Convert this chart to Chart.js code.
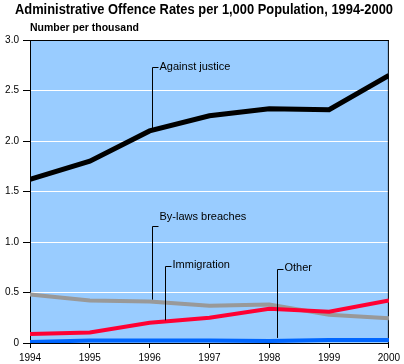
<!DOCTYPE html>
<html>
<head>
<meta charset="utf-8">
<script src="https://cdn.jsdelivr.net/npm/chart.js@4/dist/chart.umd.min.js"></script>
<style>
html,body{margin:0;padding:0;background:#fff;}
canvas{display:block;}
</style>
</head>
<body>
<canvas id="c" width="404" height="364"></canvas>
<script>
const titleText = "Administrative Offence Rates per 1,000 Population, 1994-2000";
const unitText = "Number per thousand";
const years = [1994, 1995, 1996, 1997, 1998, 1999, 2000];
const againstJustice = [1.62, 1.80, 2.10, 2.25, 2.32, 2.31, 2.65];
const immigration = [0.09, 0.105, 0.20, 0.25, 0.34, 0.31, 0.42];
const byLawsBreaches = [0.48, 0.42, 0.41, 0.37, 0.38, 0.28, 0.245];
const other = [0.01, 0.025, 0.025, 0.025, 0.02, 0.03, 0.03];
const seriesNames = ["Against justice", "Immigration", "By-laws breaches", "Other"];
const yTicks = [0, 0.5, 1.0, 1.5, 2.0, 2.5, 3.0];

// label annotations in data units: [text, lineX, lineTopY, lineBottomY, textY]
const callouts = [
  ["Against justice", 1996.04, 2.73, 2.12, 2.73],
  ["By-laws breaches", 1996.04, 1.16, 0.43, 1.25],
  ["Immigration", 1996.25, 0.765, 0.225, 0.77],
  ["Other", 1998.13, 0.73, 0.05, 0.745]
];

function pts(arr){ return years.map((yr,i)=>({x:yr, y:arr[i]})); }

const decor = {
  id:'decor',
  beforeDraw(chart){
    const {ctx, chartArea:a} = chart;
    ctx.save();
    ctx.fillStyle = '#99CCFF';
    ctx.fillRect(a.left, a.top, a.right-a.left, a.bottom-a.top);
    ctx.restore();
  },
  beforeDatasetsDraw(chart){
    const {ctx, chartArea:a} = chart;
    ctx.save();
    ctx.strokeStyle = '#000';
    ctx.lineWidth = 1;
    ctx.beginPath();
    ctx.moveTo(a.left, a.top+0.5); ctx.lineTo(a.right, a.top+0.5);
    ctx.moveTo(a.right-0.5, a.top); ctx.lineTo(a.right-0.5, a.bottom);
    ctx.stroke();
    ctx.restore();
  },
  afterDraw(chart){
    const {ctx, scales:{x,y}} = chart;
    ctx.save();
    ctx.fillStyle = '#000';
    ctx.textBaseline = 'middle';
    ctx.textAlign = 'left';
    ctx.font = 'bold 14px "Liberation Sans", Arial, sans-serif';
    let w = ctx.measureText(titleText).width;
    let s = 378 / w;
    ctx.save();
    ctx.translate(15, 10);
    ctx.scale(s, 1);
    ctx.fillText(titleText, 0, 0);
    ctx.restore();
    ctx.font = 'bold 11px "Liberation Sans", Arial, sans-serif';
    w = ctx.measureText(unitText).width;
    s = 109 / w;
    ctx.save();
    ctx.translate(30, 28);
    ctx.scale(s, 1);
    ctx.fillText(unitText, 0, 0);
    ctx.restore();
    ctx.strokeStyle = '#000';
    ctx.lineWidth = 1;
    ctx.font = '11px "Liberation Sans", Arial, sans-serif';
    callouts.forEach(([t, lx, ty, by, tyText])=>{
      const px = Math.round(x.getPixelForValue(lx)) + 0.5;
      const pt = Math.round(y.getPixelForValue(ty)) + 0.5;
      const pb = y.getPixelForValue(by);
      const ptext = y.getPixelForValue(tyText);
      ctx.beginPath();
      ctx.moveTo(px, pb); ctx.lineTo(px, pt); ctx.lineTo(px+6, pt);
      ctx.stroke();
      ctx.fillText(t, px+7, ptext);
    });
    ctx.restore();
  }
};

new Chart(document.getElementById('c'), {
  type:'line',
  data:{
    datasets:[
      {label:seriesNames[0], data:pts(againstJustice), borderColor:'#000000', borderWidth:5},
      {label:seriesNames[1], data:pts(immigration), borderColor:'#FF0033', borderWidth:4},
      {label:seriesNames[2], data:pts(byLawsBreaches), borderColor:'#999999', borderWidth:4},
      {label:seriesNames[3], data:pts(other), borderColor:'#0066FF', borderWidth:4}
    ]
  },
  options:{
    responsive:false,
    animation:false,
    events:[],
    elements:{line:{tension:0, borderCapStyle:'butt', borderJoinStyle:'miter'}, point:{radius:0}},
    layout:{padding:{top:40, right:15, left:0, bottom:0}},
    plugins:{legend:{display:false}, title:{display:false}, tooltip:{enabled:false}},
    scales:{
      x:{
        type:'linear', min:1994, max:2000,
        afterFit(sc){ sc.height = 21; },
        ticks:{stepSize:1, color:'#000', padding:4, maxRotation:0,
          font:{family:'"Liberation Sans", Arial, sans-serif', size:10},
          callback:(v)=>String(v)},
        grid:{drawOnChartArea:false, drawTicks:true, tickLength:5, tickColor:'#000'},
        border:{display:true, color:'#000', width:1}
      },
      y:{
        type:'linear', min:0, max:3,
        afterFit(sc){ sc.width = 30; },
        afterBuildTicks(sc){ sc.ticks = yTicks.map(v=>({value:v})); },
        ticks:{color:'#000', padding:4,
          font:{family:'"Liberation Sans", Arial, sans-serif', size:10},
          callback:(v)=> v===0 ? '0' : v.toFixed(1)},
        grid:{
          color:(c)=> (c.tick && (c.tick.value===0 || c.tick.value===3)) ? 'rgba(0,0,0,0)' : '#FFFFFF',
          lineWidth:1, drawTicks:true, tickLength:7, tickColor:'#000'
        },
        border:{display:true, color:'#000', width:1}
      }
    }
  },
  plugins:[decor]
});
</script>
</body>
</html>
